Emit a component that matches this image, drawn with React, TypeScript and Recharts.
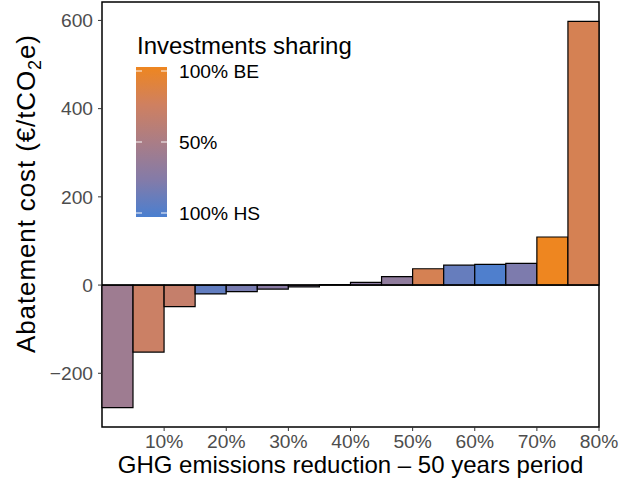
import React from 'react';
import { BarChart, Bar, Cell, XAxis, YAxis, ReferenceLine, ReferenceArea } from 'recharts';

// lower edge of each 5% step of cumulative GHG reduction
const binStarts = [0, 5, 10, 15, 20, 25, 30, 35, 40, 45, 50, 55, 60, 65, 70, 75];
const binWidth = 5;
// abatement cost of each step, €/tCO2e
const costs = [-278, -152, -49, -20, -15, -9, -4, 1, 6, 19, 37, 45, 47, 49, 109, 598];
// investment share paid by BE (0 = 100% HS, 1 = 100% BE)
const shares = [0.42, 0.72, 0.68, 0.1, 0.2, 0.28, 0.3, 0.5, 0.3, 0.33, 0.8, 0.12, 0.02, 0.22, 1, 0.8];

const yTicks = [-200, 0, 200, 400, 600];
const legendTicks = [
  { v: 1, label: '100% BE' },
  { v: 0.5, label: '50%' },
  { v: 0, label: '100% HS' },
];

// colour ramp HS -> BE, evenly spaced stops
const rampStops = ['#4a7fd0', '#847ba8', '#aa7d86', '#cf8060', '#ee8620'];

const hex = (c: string) => [1, 3, 5].map(i => parseInt(c.slice(i, i + 2), 16));

function shareColor(s: number) {
  const pos = Math.min(Math.max(s, 0), 1) * (rampStops.length - 1);
  const i = Math.min(Math.floor(pos), rampStops.length - 2);
  const t = pos - i;
  const a = hex(rampStops[i]);
  const b = hex(rampStops[i + 1]);
  const m = a.map((v, k) => Math.round(v + (b[k] - v) * t));
  return `rgb(${m[0]},${m[1]},${m[2]})`;
}

const data = binStarts.map((x0, i) => ({ bin: String(x0), cost: costs[i], share: shares[i] }));

// ggplot-style 5% expansion of the value range
const lo = Math.min(...costs);
const hi = Math.max(...costs);
const yDomain = [lo - 0.05 * (hi - lo), hi + 0.05 * (hi - lo)];

const W = 623;
const H = 487;
const M = { top: 2, right: 24, bottom: 0, left: 0 };
const Y_AXIS_W = 102;
const X_AXIS_H = 60;
const bandPx = (W - M.right - Y_AXIS_W) / binStarts.length;

const FONT = '"Liberation Sans", Arial, Helvetica, sans-serif';
const minus = (v: number) => (v < 0 ? `\u2212${-v}` : `${v}`);

// x ticks sit on the upper edge of every second bin (10%, 20%, ...)
function EdgeTick(props: any) {
  const { x, y, payload } = props;
  const edge = Number(payload.value) + binWidth;
  if (edge % 10 !== 0) return null;
  const xe = x + bandPx / 2;
  return (
    <g>
      <line x1={xe} x2={xe} y1={y} y2={y + 4} stroke="#333" strokeWidth={1} />
      <text x={xe} y={y + 7} dy="0.72em" textAnchor="middle" fontSize={19.2} fill="#4d4d4d">
        {`${edge}%`}
      </text>
    </g>
  );
}

export default function App() {
  const barTop = 67;
  const barH = 150;
  const tickY = (v: number) => barTop + barH - 4 - v * (barH - 8);

  return (
    <div style={{ position: 'absolute', left: 0, top: 0, width: W, height: H, fontFamily: FONT, background: '#fff' }}>
      <BarChart width={W} height={H} data={data} margin={M} barCategoryGap={0}>
        <XAxis
          dataKey="bin"
          type="category"
          interval={0}
          height={X_AXIS_H}
          tick={<EdgeTick />}
          tickLine={false}
          tickSize={0}
          tickMargin={0}
          axisLine={false}
        />
        <YAxis
          type="number"
          domain={yDomain}
          ticks={yTicks}
          interval={0}
          allowDataOverflow
          width={Y_AXIS_W}
          tickFormatter={minus}
          tick={{ fill: '#4d4d4d', fontSize: 19.2 }}
          tickSize={4}
          tickMargin={5}
          tickLine={{ stroke: '#333', strokeWidth: 1 }}
          axisLine={false}
        />
        <Bar dataKey="cost" stroke="#000" strokeWidth={1.2} isAnimationActive={false}>
          {data.map((d, i) => (
            <Cell key={i} fill={shareColor(d.share)} />
          ))}
        </Bar>
        <ReferenceLine y={0} stroke="#000" strokeWidth={1.5} />
        <ReferenceArea
          x1={data[0].bin}
          x2={data[data.length - 1].bin}
          y1={yDomain[0]}
          y2={yDomain[1]}
          ifOverflow="visible"
          fill="none"
          fillOpacity={0}
          stroke="#000"
          strokeWidth={1.5}
        />
      </BarChart>

      <svg width={W} height={H} style={{ position: 'absolute', left: 0, top: 0, pointerEvents: 'none' }}>
        <defs>
          <linearGradient id="shareRamp" x1="0" y1="1" x2="0" y2="0">
            {rampStops.map((c, i) => (
              <stop key={i} offset={`${(i / (rampStops.length - 1)) * 100}%`} stopColor={c} />
            ))}
          </linearGradient>
        </defs>

        {/* axis titles */}
        <text x={350.5} y={473} textAnchor="middle" fontSize={24} fill="#000">
          GHG emissions reduction – 50 years period
        </text>
        <text
          transform="translate(35,194) rotate(-90)"
          textAnchor="middle"
          fontSize={26}
          fill="#000"
          textLength={318}
          lengthAdjust="spacing"
        >
          Abatement cost (€/tCO<tspan dy={6} fontSize={18}>2</tspan>
          <tspan dy={-6}>e)</tspan>
        </text>

        {/* colour bar legend */}
        <text x={137} y={54} fontSize={24} fill="#000">Investments sharing</text>
        <rect x={136} y={barTop} width={31} height={barH} fill="url(#shareRamp)" />
        {legendTicks.map(t => (
          <g key={t.label}>
            <line x1={136} x2={142} y1={tickY(t.v)} y2={tickY(t.v)} stroke="#fff" strokeOpacity={0.8} strokeWidth={1.2} />
            <line x1={161} x2={167} y1={tickY(t.v)} y2={tickY(t.v)} stroke="#fff" strokeOpacity={0.8} strokeWidth={1.2} />
            <text x={179} y={tickY(t.v) + 7} fontSize={19.2} fill="#000">{t.label}</text>
          </g>
        ))}
      </svg>
    </div>
  );
}
